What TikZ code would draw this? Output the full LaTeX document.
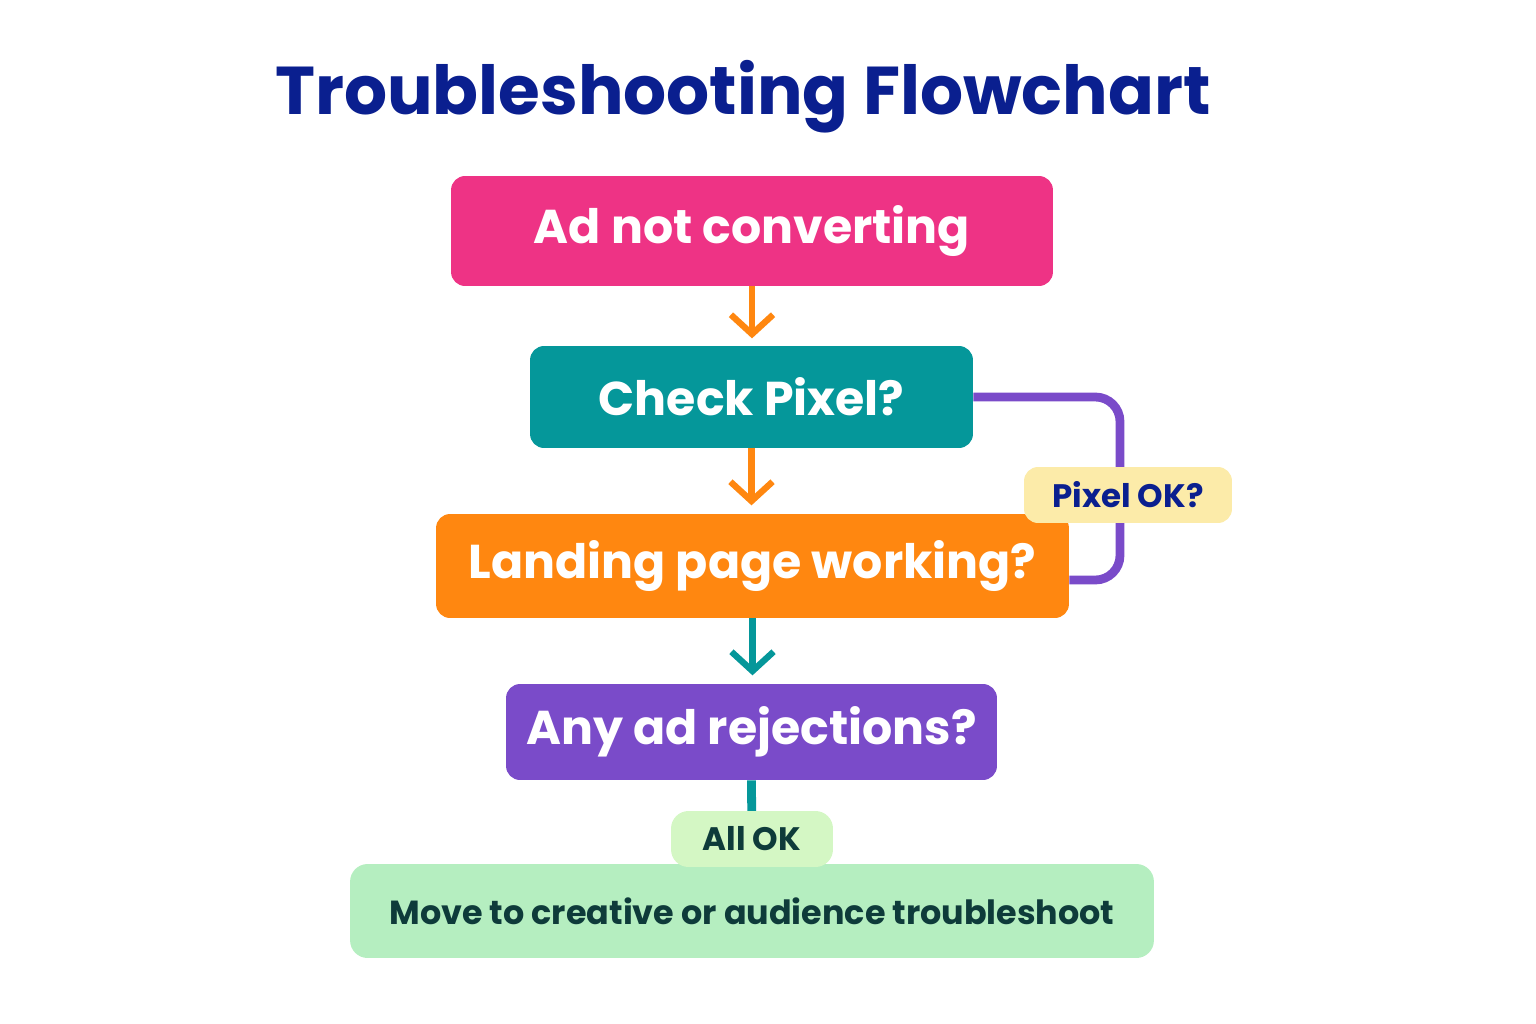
\documentclass[tikz,border=0pt]{standalone}
\usepackage{fontspec}
\setmainfont{Poppins}
\usetikzlibrary{arrows.meta}
\definecolor{titleblue}{HTML}{0A1F8F}
\definecolor{pinkbox}{HTML}{EE3385}
\definecolor{tealbox}{HTML}{05979A}
\definecolor{orangebox}{HTML}{FF8710}
\definecolor{purplebox}{HTML}{7A4BC9}
\definecolor{greenbox}{HTML}{B5EEC0}
\definecolor{greenpill}{HTML}{D4F7C4}
\definecolor{yellowpill}{HTML}{FCEBA9}
\definecolor{darktext}{HTML}{0E3B3A}
\tikzset{
  stepbox/.style={rounded corners=8pt, text=white, font=\fontsize{27}{32}\selectfont\bfseries, inner sep=0pt},
  flowarrow/.style={line width=3.6pt, -{Straight Barb[length=11pt,width=24pt,line width=3.6pt]}},
  pill/.style={rounded corners=10pt, inner sep=0pt, font=\fontsize{18.5}{22}\selectfont\bfseries},
}
\begin{document}
\begin{tikzpicture}[x=0.02cm, y=-0.02cm]
\useasboundingbox (0,0) rectangle (1536,1024);

\node[font=\fontsize{38.5}{46}\selectfont\bfseries, text=titleblue] (title) at (743,97) {Troubleshooting Flowchart};

\node[stepbox, fill=pinkbox, minimum width=12.04cm, minimum height=2.2cm] (ad) at (752,231) {Ad not converting};
\node[stepbox, fill=tealbox, minimum width=8.86cm, minimum height=2.04cm] (pixel) at (751.5,397) {Check Pixel?};
\node[stepbox, fill=orangebox, minimum width=12.66cm, minimum height=2.08cm] (landing) at (752.5,566) {Landing page working?};
\node[stepbox, fill=purplebox, minimum width=9.82cm, minimum height=1.92cm] (reject) at (751.5,732) {Any ad rejections?};
\node[pill, fill=greenbox, text=darktext, minimum width=16.08cm, minimum height=1.88cm, font=\fontsize{19}{24}\selectfont\bfseries] (move) at (752,911) {Move to creative or audience troubleshoot};

% connectors
\draw[flowarrow, orangebox] (ad.south) -- ++(0,52);
\draw[flowarrow, orangebox] (pixel.south) -- ++(0,57);
\draw[flowarrow, tealbox] (landing.south) -- ++(0,57);
\draw[line width=5pt, tealbox] (reject.south) -- (move.north);
\node[pill, fill=greenpill, text=darktext, minimum width=3.24cm, minimum height=1.12cm] (allok) at (752,839) {All OK};

\draw[line width=5pt, purplebox, rounded corners=14pt] (pixel.east) -- (1120,397) -- (1120,580) -- (landing.east |- 0,580);
\node[pill, fill=yellowpill, text=titleblue, minimum width=4.16cm, minimum height=1.12cm, rounded corners=8pt] (pixelok) at (1128,495) {Pixel OK?};
\end{tikzpicture}
\end{document}
